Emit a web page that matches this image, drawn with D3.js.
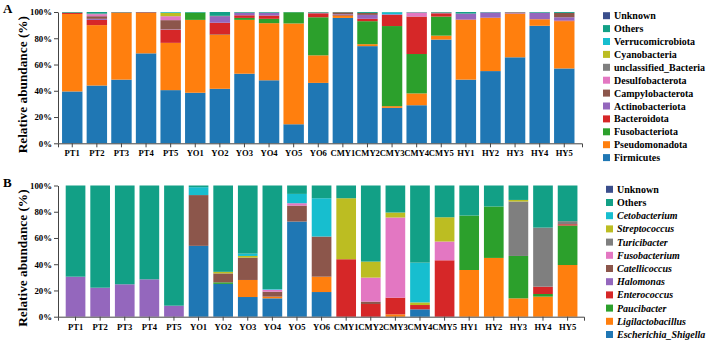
<!DOCTYPE html>
<html><head><meta charset="utf-8">
<script src="https://cdn.jsdelivr.net/npm/d3@7"></script>
<style>body{margin:0;background:#fff}svg{display:block}text{font-family:"Liberation Serif","Times New Roman",serif;font-weight:bold}</style>
</head><body><svg id="c" width="709" height="340"></svg>
<script>
const samples = ["PT1","PT2","PT3","PT4","PT5","YO1","YO2","YO3","YO4","YO5","YO6","CMY1","CMY2","CMY3","CMY4","CMY5","HY1","HY2","HY3","HY4","HY5"];
const yTicks = [0,20,40,60,80,100];

// Panel A (phylum), bottom to top
const phylaA = ["Firmicutes","Pseudomonadota","Fusobacteriota","Bacteroidota","Actinobacteriota","Campylobacterota","Desulfobacterota","unclassified_Bacteria","Cyanobacteria","Verrucomicrobiota","Others","Unknown"];
const aFirmicutes      = [39.5,44,48.5,68.5,40.5,38.5,41.5,53,48,14.5,46,95.5,74,27,29,79,48.5,55,65.5,89.5,57];
const aPseudomonadota  = [59,46,50.8,30.8,36,55.5,41,41,43.5,76.8,21,1.5,1.5,1.3,9,3,45.5,40.5,33.2,5,36];
const aFusobacteriota  = [0,0,0,0,0,5.5,0.3,1.5,3.3,8.5,29,0.3,17.5,61,30,14.5,0,0,0,0,0];
const aBacteroidota    = [1,4,0.4,0.5,10,0,9,2,2.5,0,3,0.5,1.8,8.5,28.5,2.5,0.3,0.2,0.2,0,0.5];
const aActinobacteriota= [0,0.8,0,0,0.3,0,5,2,2.2,0,0.3,0.5,3,0.5,0.2,0.3,4.5,4,0.6,5,2.5];
const aCampylobacterota= [0,2,0,0,7,0,0.3,0,0,0,0.3,1.5,1.5,0,0,0.3,0,0,0.4,0,3.3];
const aDesulfobacterota= [0,1.5,0,0,3,0,0,0,0,0,0,0,0,0,3,0,0,0,0,0,0];
const aUnclassified    = [0,0.5,0,0,0,0,0,0,0,0,0,0,0,0,0,0,0,0,0,0,0];
const aCyanobacteria   = [0,0,0,0,2.5,0,0,0,0,0,0,0,0,0,0,0,0,0,0,0,0];
const aVerrucomicrobiota=[0,0,0,0,0.5,0,0,0,0,0,0,0,0,1.5,0,0,0,0,0,0,0];
const aOthers          = [0.5,1.2,0.3,0.2,0.2,0.5,2.9,0.5,0.5,0.2,0.4,0.2,0.7,0.2,0.3,0.4,1.2,0.3,0.1,0.5,0.7];
const aUnknown         = [0,0,0,0,0,0,0,0,0,0,0,0,0,0,0,0,0,0,0,0,0];
const valuesA = [aFirmicutes,aPseudomonadota,aFusobacteriota,aBacteroidota,aActinobacteriota,aCampylobacterota,aDesulfobacterota,aUnclassified,aCyanobacteria,aVerrucomicrobiota,aOthers,aUnknown];

// Panel B (genus), bottom to top
const generaB = ["Escherichia_Shigella","Ligilactobacillus","Paucibacter","Enterococcus","Halomonas","Catellicoccus","Fusobacterium","Turicibacter","Streptococcus","Cetobacterium","Others","Unknown"];
const bEscherichia   = [0,0,0,0,0,54,25,15,14,72.5,18.8,0,0,0,5.6,0,0,0,0,0,0];
const bLigilacto     = [0,0,0,0,0,0,0,13,1.3,0,11.7,0,0,1.8,0,0,35.6,44.8,14,15.3,39.4];
const bPaucibacter   = [0,0,0,0,0,0,1.2,0,0,0,0,0,0,0,0,0,41.5,39.2,32.3,2,30.1];
const bEnterococcus  = [0,0,0,0,0,0,0,0,0,0,0,43.8,9.7,12.7,3.3,43,0,0,0,5.6,1];
const bHalomonas     = [30.5,22.1,24.7,28.5,8.4,0,0,0,0,0,0,0,0,0,0,0,0,0,0,0,0];
const bCatellicoccus = [0,0,0,0,0,38.7,6.8,17,3.8,12.2,30.6,0,1.8,0,0,0,0,0,0,0,0];
const bFusobacterium = [0,0,0,0,0,0,0,0,1.5,1.8,0,0,18.3,61.1,0,14.3,0,0,0,0,0];
const bTuricibacter  = [0,0,0,0,0,0,0,0,0,0,0,0,0,0,0,0,0,0,41.5,45,2.3];
const bStreptococcus = [0,0,0,0,0,0,1.2,1.3,0,0,0,46.5,12.2,3.8,2,18.5,0,0,1.2,0,0];
const bCetobacterium = [0,0,0,0,0,6,0,1.8,0.5,7.1,29.2,0,0,0,30.3,0,0,0,0,0,0];
const bOthers        = [69.5,77.9,75.3,71.5,91.6,1.3,65.8,51.9,78.9,6.4,9.7,9.7,58,20.6,58.8,24.2,22.9,16,11,32.1,27.2];
const bUnknown       = [0,0,0,0,0,0,0,0,0,0,0,0,0,0,0,0,0,0,0,0,0];
const valuesB = [bEscherichia,bLigilacto,bPaucibacter,bEnterococcus,bHalomonas,bCatellicoccus,bFusobacterium,bTuricibacter,bStreptococcus,bCetobacterium,bOthers,bUnknown];

const palette = ["#1f77b4","#ff7f0e","#2ca02c","#d62728","#9467bd","#8c564b","#e377c2","#7f7f7f","#bcbd22","#17becf","#12a086","#3a4e8c"];

const svg = d3.select("#c");

function panel(opt){
  const {names, values, top, bottom, x0, x1, pInner, pOuter, align, letter, legX, legY, legStep, italic} = opt;
  const rows = samples.map((s,i)=>{const r={sample:s}; names.forEach((n,k)=>r[n]=values[k][i]); return r;});
  const stack = d3.stack().keys(names)(rows);
  const x = d3.scaleBand().domain(samples).range([x0,x1]).paddingInner(pInner).paddingOuter(pOuter).align(align);
  const y = d3.scaleLinear().domain([0,100]).range([bottom,top]);
  const color = d3.scaleOrdinal().domain(names).range(palette);
  const g = svg.append("g");
  g.selectAll("g.s").data(stack).join("g").attr("fill",d=>color(d.key))
    .selectAll("rect").data(d=>d).join("rect")
    .attr("x",d=>x(d.data.sample)).attr("width",x.bandwidth())
    .attr("y",d=>y(d[1])).attr("height",d=>Math.max(0,y(d[0])-y(d[1])));
  const ax = g.append("g").attr("transform",`translate(0,${bottom})`)
    .call(d3.axisBottom(x).tickSizeInner(4).tickSizeOuter(4).tickPadding(3));
  ax.selectAll("text").attr("font-size","8.6px").attr("fill","#000");
  const ay = g.append("g").attr("transform",`translate(${x0},0)`)
    .call(d3.axisLeft(y).tickValues(yTicks).tickFormat(d=>d+"%").tickSizeInner(4).tickSizeOuter(0).tickPadding(2));
  ay.selectAll("text").attr("font-size","8.8px").attr("fill","#000");
  [ax,ay].forEach(a=>{a.select(".domain").attr("stroke","#444");a.selectAll("line").attr("stroke","#444");});
  g.append("text").attr("transform",`translate(27,${(top+bottom)/2+7}) rotate(-90)`)
    .attr("text-anchor","middle").attr("font-size","13.3px").text("Relative abundance (%)");
  g.append("text").attr("x",3).attr("y",top+1).attr("font-size","13px").text(letter);
  const legNames = names.slice().reverse();
  const lg = g.append("g");
  legNames.forEach((n,i)=>{
    const cy = legY + i*legStep;
    lg.append("rect").attr("x",legX).attr("y",cy-3.5).attr("width",7).attr("height",7).attr("fill",color(n));
    const t = lg.append("text").attr("x",legX+11).attr("y",cy+3.5).attr("font-size","10px").text(n);
    if(italic && n!=="Others" && n!=="Unknown") t.attr("font-style","italic");
  });
}

panel({names:phylaA, values:valuesA, top:12, bottom:143.3, x0:58, x1:582, pInner:0.17, pOuter:0.235, align:0.35, letter:"A", legX:603, legY:15.7, legStep:12.9, italic:false});
panel({names:generaB, values:valuesB, top:185.5, bottom:316.7, x0:58, x1:584, pInner:0.2, pOuter:0.29, align:0.54, letter:"B", legX:606, legY:189.3, legStep:13.2, italic:true});
</script></body></html>
